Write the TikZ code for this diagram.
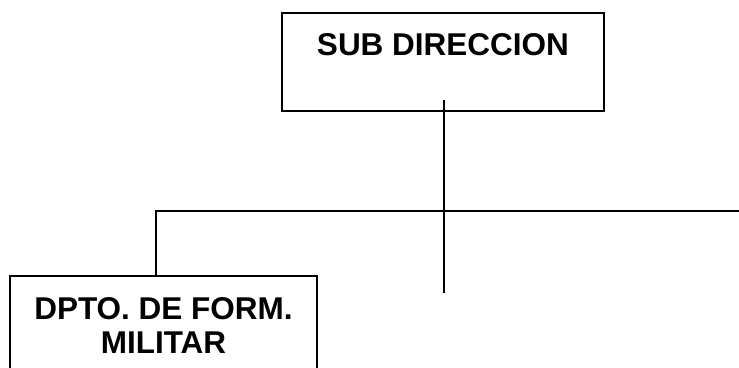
\documentclass[tikz,border=0pt]{standalone}
\usepackage{fontspec}
\setmainfont{Liberation Sans}
\usetikzlibrary{positioning}

\begin{document}
\begin{tikzpicture}[x=1pt, y=-1pt, line width=1.8pt,
    box/.style = {draw, rectangle, inner xsep=0pt, inner ysep=0pt, font=\bfseries\fontsize{31.5}{34}\selectfont},
    lbl/.style = {inner sep=0pt, align=center, font=\bfseries\fontsize{31.5}{34}\selectfont}]
    \useasboundingbox (0,0) rectangle (739,367);
    \clip (0,0) rectangle (739,367);

    % boxes
    \node[box, anchor=north, minimum width=322pt, text height=43pt, text depth=55pt] (sub) at (443,12) {SUB DIRECCION};
    \node[box, anchor=north, minimum width=307pt, minimum height=140pt] (dpto) at (163.5,275) {};
    \node[lbl, anchor=north] (dptotxt) [below=22pt of dpto.north] {DPTO. DE FORM.\\MILITAR};

    % lines
    \coordinate (stemtop) at (444,100);
    \coordinate (stemend) at (444,293);
    \coordinate (railleft) at (156,211);
    \coordinate (railright) at (739,211);
    \draw[line width=1.5pt] (stemtop) -- (stemend);
    \draw[line width=1.5pt] (railright) -- (railleft) -- (railleft |- dpto.north);

\end{tikzpicture}
\end{document}
